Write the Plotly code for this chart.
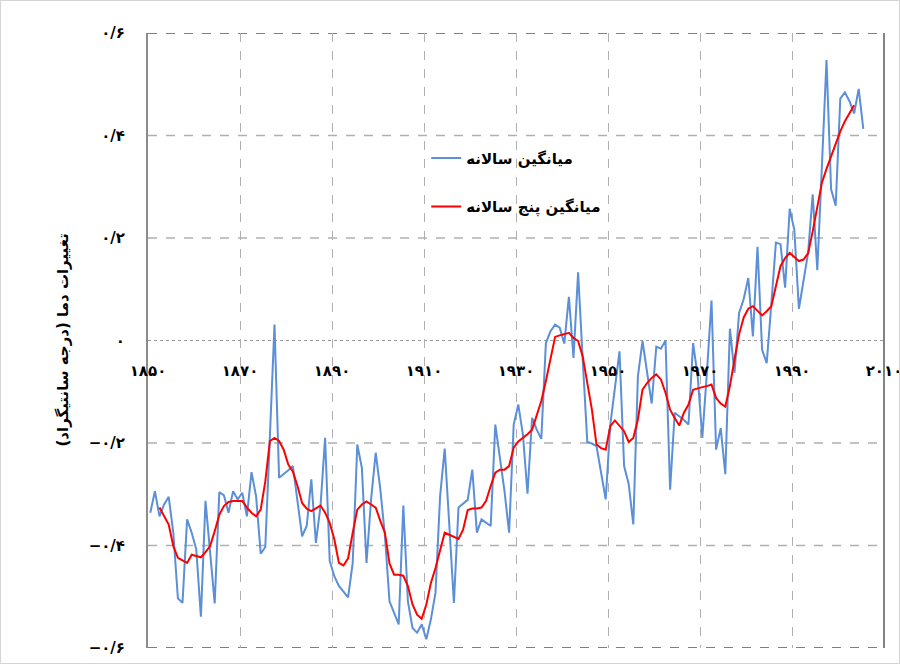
import plotly.graph_objects as go

# Annual global temperature anomaly (°C) and its centred five-year running mean
years = list(range(1851, 2007))
annual = [
    -0.336, -0.294, -0.343, -0.320, -0.305, -0.375, -0.503, -0.512, -0.349, -0.375,
    -0.408, -0.539, -0.313, -0.414, -0.513, -0.296, -0.302, -0.336, -0.294, -0.310,
    -0.297, -0.343, -0.257, -0.304, -0.416, -0.403, -0.170, 0.031, -0.268, -0.261,
    -0.253, -0.245, -0.314, -0.382, -0.362, -0.271, -0.395, -0.323, -0.190, -0.430,
    -0.460, -0.479, -0.490, -0.501, -0.434, -0.203, -0.249, -0.434, -0.310, -0.219,
    -0.290, -0.380, -0.509, -0.531, -0.554, -0.322, -0.509, -0.561, -0.570, -0.554,
    -0.583, -0.544, -0.492, -0.304, -0.211, -0.360, -0.512, -0.326, -0.318, -0.311,
    -0.252, -0.375, -0.349, -0.356, -0.362, -0.164, -0.226, -0.294, -0.375, -0.164,
    -0.125, -0.183, -0.299, -0.151, -0.174, -0.192, -0.005, 0.018, 0.031, 0.025,
    -0.006, 0.085, -0.034, 0.133, -0.037, -0.198, -0.201, -0.206, -0.258, -0.310,
    -0.164, -0.096, -0.021, -0.245, -0.280, -0.359, -0.070, -0.001, -0.063, -0.123,
    -0.012, -0.016, 0.000, -0.291, -0.141, -0.148, -0.155, -0.164, -0.005, -0.070,
    -0.190, -0.063, 0.078, -0.213, -0.171, -0.261, 0.023, -0.063, 0.054, 0.081,
    0.122, 0.008, 0.183, -0.018, -0.044, 0.070, 0.191, 0.188, 0.103, 0.257,
    0.216, 0.062, 0.119, 0.171, 0.285, 0.137, 0.340, 0.547, 0.295, 0.263,
    0.472, 0.484, 0.467, 0.443, 0.491, 0.413,
]

mean_years = list(range(1853, 2005))
five_year = [
    -0.326, -0.343, -0.359, -0.401, -0.424, -0.429, -0.434, -0.418, -0.420, -0.423,
    -0.413, -0.401, -0.372, -0.340, -0.323, -0.315, -0.313, -0.313, -0.313, -0.326,
    -0.336, -0.343, -0.330, -0.275, -0.196, -0.190, -0.196, -0.213, -0.242, -0.256,
    -0.284, -0.317, -0.328, -0.333, -0.327, -0.322, -0.336, -0.356, -0.388, -0.434,
    -0.439, -0.425, -0.375, -0.330, -0.320, -0.314, -0.320, -0.326, -0.352, -0.375,
    -0.435, -0.457, -0.457, -0.459, -0.479, -0.515, -0.535, -0.543, -0.515, -0.473,
    -0.444, -0.408, -0.375, -0.379, -0.383, -0.387, -0.369, -0.331, -0.328, -0.328,
    -0.326, -0.313, -0.284, -0.258, -0.252, -0.252, -0.245, -0.209, -0.197, -0.190,
    -0.183, -0.174, -0.145, -0.118, -0.079, -0.037, 0.007, 0.010, 0.012, 0.015,
    0.005, -0.001, -0.031, -0.085, -0.135, -0.203, -0.210, -0.213, -0.167, -0.156,
    -0.167, -0.177, -0.198, -0.190, -0.154, -0.096, -0.083, -0.073, -0.066, -0.076,
    -0.102, -0.135, -0.151, -0.166, -0.141, -0.125, -0.096, -0.093, -0.091, -0.089,
    -0.086, -0.112, -0.123, -0.129, -0.089, -0.037, 0.012, 0.045, 0.062, 0.067,
    0.057, 0.049, 0.057, 0.067, 0.106, 0.145, 0.161, 0.171, 0.163, 0.155,
    0.158, 0.170, 0.213, 0.262, 0.308, 0.335, 0.360, 0.386, 0.408, 0.428,
    0.445, 0.459,
]

label_years = [1850, 1870, 1890, 1910, 1930, 1950, 1970, 1990, 2010]
x_labels = ["۱۸۵۰", "۱۸۷۰", "۱۸۹۰", "۱۹۱۰", "۱۹۳۰", "۱۹۵۰", "۱۹۷۰", "۱۹۹۰", "۲۰۱۰"]
y_ticks = [-0.6, -0.4, -0.2, 0.0, 0.2, 0.4, 0.6]
y_labels = ["−۰/۶", "−۰/۴", "−۰/۲", "۰", "۰/۲", "۰/۴", "۰/۶"]

series_names = ["میانگین سالانه", "میانگین پنج سالانه"]
y_title = "تغییرات دما (درجه سانتیگراد)"

FONT = "DejaVu Sans"
W, H = 900, 664
ML, MR, MT, MB = 148, 16, 33, 16
pw, ph = W - ML - MR, H - MT - MB

# category boundaries sit half a year before each labelled year
x_ticks = [y + 0.5 for y in label_years]
x_range = [x_ticks[0], x_ticks[-1]]

fig = go.Figure()
fig.add_trace(go.Scatter(
    x=years, y=annual, mode="lines", name=series_names[0],
    line=dict(color="#5B8FD8", width=2), legendgroup="a",
))
fig.add_trace(go.Scatter(
    x=mean_years, y=five_year, mode="lines", name=series_names[1],
    line=dict(color="#FF0000", width=2), legendgroup="b",
))

shapes = []
# horizontal grid lines (the zero line is dotted, the outer ones darker)
for v in y_ticks:
    if v == 0:
        style = dict(color="#9a9a9a", width=1, dash="dot")
    elif abs(v) == 0.6:
        style = dict(color="#555555", width=1.3, dash="dash")
    else:
        style = dict(color="#b0b0b0", width=1.3, dash="dash")
    shapes.append(dict(type="line", xref="paper", yref="y", x0=0, x1=1, y0=v, y1=v,
                       line=style, layer="below"))
# right frame edge
shapes.append(dict(type="line", xref="paper", yref="paper", x0=1, x1=1, y0=0, y1=1,
                   line=dict(color="#404040", width=1.3), layer="below"))
# outer chart border
shapes.append(dict(type="rect", xref="paper", yref="paper",
                   x0=(0.5 - ML) / pw, x1=(W - 0.5 - ML) / pw,
                   y0=-(MB - 0.5) / ph, y1=1 + (MT - 0.5) / ph,
                   line=dict(color="#d4d4d4", width=1)))

fig.update_layout(
    width=W, height=H,
    margin=dict(l=ML, r=MR, t=MT, b=MB, autoexpand=False),
    paper_bgcolor="white", plot_bgcolor="white",
    font=dict(family=FONT, color="black"),
    showlegend=True,
    legend=dict(
        x=0.378, y=0.823, xanchor="left", yanchor="top",
        bgcolor="rgba(0,0,0,0)", font=dict(family=FONT, size=15, color="black", weight="bold"),
        tracegroupgap=26,
    ),
    shapes=shapes,
    annotations=[dict(
        text=y_title, textangle=-90, xref="paper", yref="paper",
        x=(62 - ML) / pw, y=0.5, xanchor="center", yanchor="middle", showarrow=False,
        font=dict(family=FONT, size=15, color="black", weight="bold"),
    )],
)

fig.update_xaxes(
    range=x_range, tickmode="array", tickvals=x_ticks, ticktext=x_labels,
    showgrid=True, gridcolor="#b0b0b0", gridwidth=1.3, griddash="dash",
    zeroline=False, showline=False, automargin=False,
    anchor="free", position=0.5,
    ticks="outside", ticklen=16, tickcolor="rgba(0,0,0,0)",
    ticklabeloverflow="allow",
    tickfont=dict(family=FONT, size=15, color="black", weight="bold"),
)
fig.update_yaxes(
    range=[-0.6, 0.6], tickmode="array", tickvals=y_ticks, ticktext=y_labels,
    showgrid=False, zeroline=False, automargin=False,
    showline=True, linecolor="#8c8c8c", linewidth=2,
    ticks="outside", ticklen=18, tickcolor="rgba(0,0,0,0)",
    tickfont=dict(family=FONT, size=15, color="black", weight="bold"),
)

fig.write_html("out.html")
